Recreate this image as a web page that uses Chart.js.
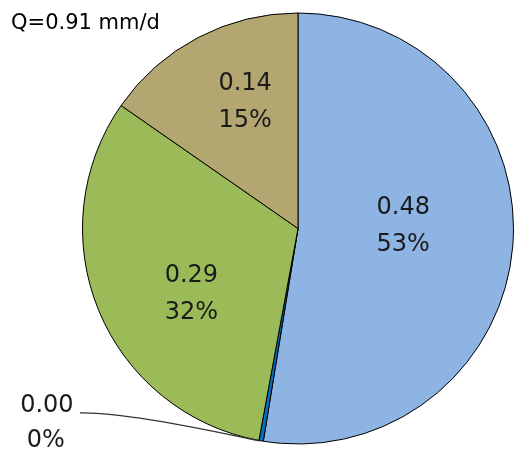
<!DOCTYPE html>
<html>
<head>
<meta charset="utf-8">
<script src="https://cdn.jsdelivr.net/npm/chart.js@4/dist/chart.umd.min.js"></script>
<style>
  html, body { margin: 0; padding: 0; background: #fff; }
  #wrap { width: 514px; height: 455px; position: relative; }
</style>
</head>
<body>
<div id="wrap"><canvas id="pie"></canvas></div>
<script>
// Valores (mm/d), en sentido horario desde arriba
const categorias = ['Comp. 1', 'Comp. 2', 'Comp. 3', 'Comp. 4'];
const valores    = [0.48, 0.003, 0.29, 0.14];
const colores    = ['#8EB4E3', '#0070C0', '#9BBB59', '#B3A671'];
const titulo     = 'Q=0.91 mm/d';

const total = valores.reduce((a, b) => a + b, 0);

// ajuste de la posición de etiquetas (radio relativo, desplazamiento px)
const labelRadio = [0.49, 0, 0.57, 0.63];
const labelNudge = [[0, -10], [0, 0], [7, 20], [10, -5]];

const FONT = '24px "DejaVu Sans", sans-serif';

const etiquetasPlugin = {
    id: 'etiquetas',
    afterDatasetsDraw(chart) {
        const ctx  = chart.ctx;
        const meta = chart.getDatasetMeta(0);
        ctx.save();
        ctx.font = FONT;
        ctx.fillStyle = '#1a1a1a';
        ctx.textAlign = 'center';
        ctx.textBaseline = 'middle';

        meta.data.forEach((arc, i) => {
            const v   = valores[i];
            const pct = Math.round(v / total * 100) + '%';
            const val = v.toFixed(2);
            const mid = (arc.startAngle + arc.endAngle) / 2;

            if (labelRadio[i] > 0) {
                const r = arc.outerRadius * labelRadio[i];
                const x = arc.x + Math.cos(mid) * r + labelNudge[i][0];
                const y = arc.y + Math.sin(mid) * r + labelNudge[i][1];
                ctx.fillText(val, x, y - 19);
                ctx.fillText(pct, x, y + 18);
            } else {
                // porción mínima: etiqueta fuera con línea guía
                const ox = arc.x + Math.cos(mid) * arc.outerRadius;
                const oy = arc.y + Math.sin(mid) * arc.outerRadius;
                const tx = arc.x - arc.outerRadius * 1.17;
                const ty = oy - 35;
                ctx.strokeStyle = '#333';
                ctx.lineWidth = 1.2;
                ctx.beginPath();
                ctx.moveTo(tx + 34, ty + 7);
                ctx.quadraticCurveTo(tx + 80, ty + 6, ox - 2, oy);
                ctx.stroke();
                ctx.fillText(val, tx + 1, ty);
                ctx.fillText(pct, tx, ty + 35);
            }
        });

        // título arriba a la izquierda
        ctx.textAlign = 'left';
        ctx.font = '21px "DejaVu Sans", sans-serif';
        ctx.fillStyle = '#000';
        ctx.fillText(titulo, 11, 24);
        ctx.restore();
    }
};

new Chart(document.getElementById('pie'), {
    type: 'pie',
    data: {
        labels: categorias,
        datasets: [{
            data: valores,
            backgroundColor: colores,
            borderColor: '#000',
            borderWidth: 1
        }]
    },
    options: {
        responsive: true,
        maintainAspectRatio: false,
        animation: false,
        layout: { padding: { left: 82, right: 0, top: 9, bottom: 7 } },
        plugins: { legend: { display: false }, tooltip: { enabled: false } }
    },
    plugins: [etiquetasPlugin]
});
</script>
</body>
</html>
